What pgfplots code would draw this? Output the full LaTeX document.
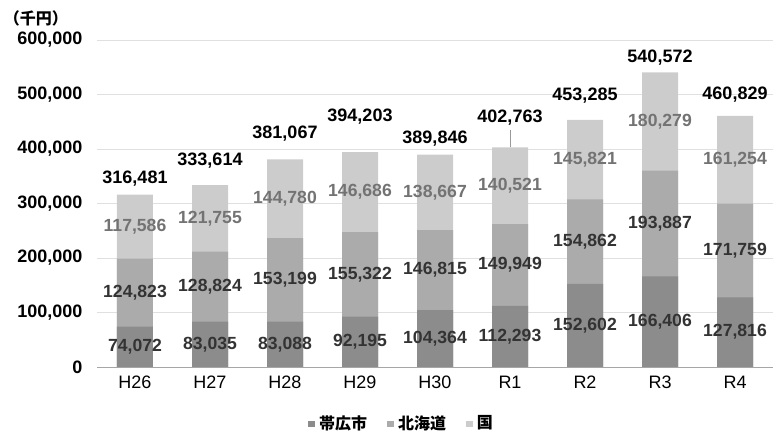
\documentclass[border=0pt]{standalone}
\usepackage{pgfplots}
\pgfplotsset{compat=1.18}
\usepackage{pgfplotstable}
\usepackage{fontspec}
\setmainfont{Liberation Sans}
\newfontfamily\jp{Noto Sans CJK JP}
\usetikzlibrary{calc}

\definecolor{obihiro}{HTML}{8C8C8C}
\definecolor{hokkaido}{HTML}{ABABAB}
\definecolor{kuni}{HTML}{CCCCCC}

% 帯広市 / 北海道 / 国, total, gap above bar for the total label
\pgfplotstableread{
x obi    hok    kun    tot    gap
0 74072  124823 117586 316481 14700
1 83035  128824 121755 333614 29400
2 83088  153199 144780 381067 33000
3 92195  155322 146686 394203 51000
4 104364 146815 138667 389846 14700
5 112293 149949 140521 402763 40000
6 152602 154862 145821 453285 29000
7 166406 193887 180279 540572 13000
8 127816 171759 161254 460829 24000
}\budget

\begin{document}
\begin{tikzpicture}
\begin{axis}[
    name=ax,
    scale only axis,
    width=337.5pt, height=163.5pt,
    xmin=-0.5, xmax=8.5,
    ymin=0, ymax=600000,
    ytick={0,100000,...,600000},
    scaled y ticks=false,
    xtick={0,...,8},
    xticklabels={H26,H27,H28,H29,H30,R1,R2,R3,R4},
    /pgf/number format/.cd, fixed, precision=0, 1000 sep={,}, assume math mode=true,
    /pgfplots/.cd,
    axis lines*=left,
    y axis line style={draw=none},
    x axis line style={black!35},
    tick style={draw=none},
    ymajorgrids,
    grid style={black!12},
    yticklabel style={font=\bfseries\fontsize{9}{10}\selectfont, xshift=-4pt},
    xticklabel style={font=\fontsize{9}{10}\selectfont, yshift=-1pt},
    clip=false,
    reverse legend,
    legend style={at={(0.452,-0.174)}, anchor=center, draw=none, fill=none,
        legend columns=-1, font=\jp\bfseries\fontsize{8}{9}\selectfont,
        /tikz/every even column/.append style={column sep=8pt}},
    legend image code/.code={\fill[#1] (0pt,-1.6pt) rectangle (3.4pt,1.6pt);},
    lbl/.style={forget plot, draw=none, mark=none, nodes near coords, point meta=explicit},
]
% bars drawn from the full height down
\addplot[ybar, bar width=18pt, bar shift=0pt, fill=kuni, draw=none]
    table[x=x, y=tot]{\budget};
\addlegendentry{国}
\addplot[ybar, bar width=18pt, bar shift=0pt, fill=hokkaido, draw=none]
    table[x=x, y expr=\thisrow{obi}+\thisrow{hok}]{\budget};
\addlegendentry{北海道}
\addplot[ybar, bar width=18pt, bar shift=0pt, fill=obihiro, draw=none]
    table[x=x, y=obi]{\budget};
\addlegendentry{帯広市}

% segment labels
\addplot[lbl, nodes near coords style={anchor=center, font=\bfseries\fontsize{8.8}{10}\selectfont, text=black!80}]
    table[x=x, y expr=\thisrow{obi}/2, meta=obi]{\budget};
\addplot[lbl, nodes near coords style={anchor=center, font=\bfseries\fontsize{8.8}{10}\selectfont, text=black!80}]
    table[x=x, y expr=\thisrow{obi}+\thisrow{hok}/2, meta=hok]{\budget};
\addplot[lbl, nodes near coords style={anchor=center, font=\bfseries\fontsize{8.8}{10}\selectfont, text=black!55}]
    table[x=x, y expr=\thisrow{obi}+\thisrow{hok}+\thisrow{kun}/2, meta=kun]{\budget};
% totals
\addplot[lbl, nodes near coords style={anchor=south, inner sep=0pt, font=\bfseries\fontsize{9}{10}\selectfont}]
    table[x=x, y expr=\thisrow{tot}+\thisrow{gap}, meta=tot]{\budget};
% leader line of R1
\draw[black!40] (axis cs:5,402763) -- (axis cs:5,434000);

\node[anchor=west, font=\jp\bfseries\fontsize{8}{9}\selectfont, inner sep=0pt]
    at ([xshift=-47pt, yshift=11pt]rel axis cs:0,1) {（千円）};
\end{axis}
\pgfresetboundingbox
\path[use as bounding box] ($(ax.south west)+(-48.75pt,-36pt)$) rectangle ($(ax.north east)+(1.25pt,20pt)$);
\end{tikzpicture}
\end{document}
